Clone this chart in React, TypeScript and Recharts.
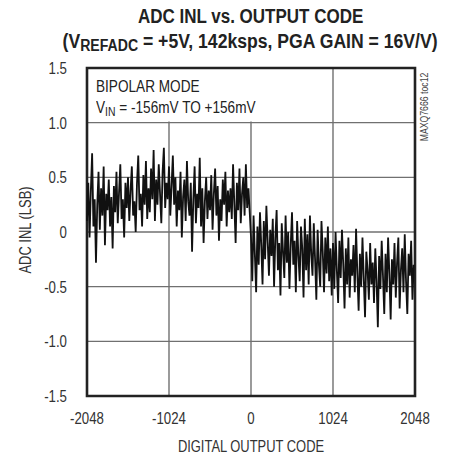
import { LineChart, Line, XAxis, YAxis, CartesianGrid, ReferenceArea } from 'recharts'

// INL readings, one every 16 codes
const inlNegative = [
  0.1, 0.45, -0.05, 0.38, 0.72, 0.05, 0.3, -0.28, 0.25, 0.55, 0.02, 0.4, 0.15, 0.6, -0.12, 0.35,
  0.2, 0.48, 0.05, 0.32, -0.15, 0.42, 0.18, 0.55, 0.08, 0.36, 0.62, 0.12, 0.3, -0.05, 0.45, 0.22,
  0.5, 0.1, 0.38, 0.6, 0.15, 0.28, 0.0, 0.44, 0.7, 0.2, 0.35, 0.05, 0.52, 0.25, 0.65, 0.12,
  0.4, 0.18, 0.58, 0.3, 0.75, 0.1, 0.48, 0.25, 0.62, 0.35, 0.08, 0.55, 0.77, 0.22, 0.45, 0.3,
  0.6, 0.15, 0.42, 0.7, 0.25, 0.5, 0.05, 0.38, 0.2, 0.55, -0.05, 0.32, 0.48, 0.1, 0.65, 0.28,
  0.15, 0.45, -0.18, 0.3, 0.6, 0.08, 0.35, 0.22, 0.68, 0.05, 0.4, -0.1, 0.28, 0.5, 0.12, 0.38,
  0.2, 0.52, 0.02, 0.35, 0.58, 0.15, 0.42, -0.08, 0.3, 0.1, 0.48, 0.25, 0.55, 0.05, 0.38, 0.18,
  0.4, 0.12, 0.62, 0.25, -0.1, 0.45, 0.2, 0.58, 0.08, 0.35, 0.5, 0.15, 0.62, 0.22, 0.4, 0.18,
]

const inlPositive = [
  -0.05, -0.45, 0.15, -0.2, -0.55, 0.05, -0.3, 0.18, -0.12, -0.48, 0.1, -0.25, 0.24, -0.08, -0.4, 0.02,
  -0.22, 0.12, -0.5, -0.05, 0.2, -0.35, -0.1, -0.58, 0.08, -0.18, -0.42, 0.15, -0.28, 0.0, -0.52, -0.12,
  0.18, -0.3, -0.08, -0.55, 0.1, -0.22, -0.45, 0.05, -0.15, -0.6, 0.12, -0.35, -0.02, -0.48, 0.15, -0.2,
  -0.4, 0.08, -0.25, -0.62, 0.02, -0.3, -0.5, 0.1, -0.18, -0.55, -0.05, -0.38, 0.05, -0.45, -0.15, -0.58,
  -0.1, -0.52, 0.0, -0.35, -0.65, -0.08, -0.42, 0.02, -0.3, -0.7, -0.15, -0.48, -0.05, -0.6, -0.25, -0.4,
  -0.12, -0.55, 0.03, -0.38, -0.72, -0.2, -0.5, -0.05, -0.42, -0.78, -0.18, -0.35, -0.62, -0.1, -0.48, -0.28,
  -0.65, -0.15, -0.45, -0.87, -0.22, -0.52, -0.08, -0.4, -0.75, -0.2, -0.55, -0.05, -0.38, -0.8, -0.25, -0.48,
  -0.1, -0.6, -0.28, -0.05, -0.7, -0.35, -0.15, -0.55, -0.02, -0.45, -0.75, -0.2, -0.4, -0.08, -0.62, -0.3,
]

const xTicks = [-2048, -1024, 0, 1024, 2048]
const yTicks = [-1.5, -1, -0.5, 0, 0.5, 1, 1.5]
const yTickLabels = ['-1.5', '-1.0', '-0.5', '0', '0.5', '1.0', '1.5']

const data = [...inlNegative, ...inlPositive].map((v, i) => ({ code: -2048 + i * 16, inl: v }))

const font = '"Liberation Sans", Arial, sans-serif'
const squeeze = (k: number) => ({ display: 'inline-block', transform: `scaleX(${k})` })

// condensed tick text, like the datasheet's narrow face
const XTick = ({ x, y, payload }: any) => (
  <text transform={`translate(${x},${y}) scale(0.78,1)`} textAnchor="middle" dy="0.71em"
    fontSize={17} fill="#333" fontFamily={font}>
    {payload.value}
  </text>
)

const YTick = ({ x, y, payload }: any) => (
  <text transform={`translate(${x},${y}) scale(0.78,1)`} textAnchor="end" dy="0.36em"
    fontSize={17} fill="#333" fontFamily={font}>
    {yTickLabels[yTicks.indexOf(payload.value)]}
  </text>
)

export default function App() {
  return (
    <div style={{ position: 'absolute', left: 0, top: 0, width: 459, height: 458, background: '#fff', fontFamily: font }}>
      <div style={{ position: 'absolute', left: 0, width: 501, top: 4, textAlign: 'center', fontWeight: 'bold', fontSize: 20, lineHeight: '25px', color: '#222', whiteSpace: 'nowrap' }}>
        <span style={squeeze(0.85)}>ADC INL vs. OUTPUT CODE</span>
      </div>
      <div style={{ position: 'absolute', left: 0, width: 501, top: 29, textAlign: 'center', fontWeight: 'bold', fontSize: 20, lineHeight: '25px', color: '#222', whiteSpace: 'nowrap' }}>
        <span style={squeeze(0.88)}>
          (V<span style={{ fontSize: 16, position: 'relative', top: 3 }}>REFADC</span> = +5V, 142ksps, PGA GAIN = 16V/V)
        </span>
      </div>

      <LineChart
        width={459}
        height={458}
        data={data}
        margin={{ top: 68, right: 44, bottom: 32, left: 27 }}
      >
        <CartesianGrid stroke="#707070" strokeWidth={1.4} vertical horizontal />
        <ReferenceArea x1={-2048} x2={100} y1={1.01} y2={1.5} fill="#fff" fillOpacity={1} stroke="none" />
        <XAxis
          dataKey="code"
          type="number"
          domain={[-2048, 2048]}
          ticks={xTicks}
          tick={<XTick />}
          tickSize={0}
          tickMargin={16}
          axisLine={false}
          height={30}
        />
        <YAxis
          type="number"
          domain={[-1.5, 1.5]}
          ticks={yTicks}
          tick={<YTick />}
          tickSize={0}
          tickMargin={20}
          axisLine={false}
          width={60}
        />
        <Line
          type="linear"
          dataKey="inl"
          stroke="#111"
          strokeWidth={1.8}
          dot={false}
          isAnimationActive={false}
        />
        <ReferenceArea x1={-2048} x2={2048} y1={-1.5} y2={1.5} fill="none" stroke="#222" strokeWidth={2.6} />
      </LineChart>

      <div style={{ position: 'absolute', left: 96, top: 76, fontSize: 17, lineHeight: '21px', color: '#222', whiteSpace: 'nowrap', transform: 'scaleX(0.8)', transformOrigin: 'left top' }}>
        BIPOLAR MODE
        <br />
        V<span style={{ fontSize: 13, position: 'relative', top: 3 }}>IN</span> = -156mV TO +156mV
      </div>
      <div style={{ position: 'absolute', left: 26, top: 230, transform: 'translate(-50%, -50%) rotate(-90deg) scaleX(0.76)', fontSize: 17, color: '#333', whiteSpace: 'nowrap' }}>
        ADC INL (LSB)
      </div>
      <div style={{ position: 'absolute', left: 251, top: 447, transform: 'translate(-50%, -50%) scaleX(0.76)', fontSize: 17, color: '#333', whiteSpace: 'nowrap' }}>
        DIGITAL OUTPUT CODE
      </div>
      <div style={{ position: 'absolute', left: 424, top: 107, transform: 'translate(-50%, -50%) rotate(-90deg) scaleX(0.87)', fontSize: 10, color: '#444', whiteSpace: 'nowrap' }}>
        MAXQ7666 toc12
      </div>
    </div>
  )
}
